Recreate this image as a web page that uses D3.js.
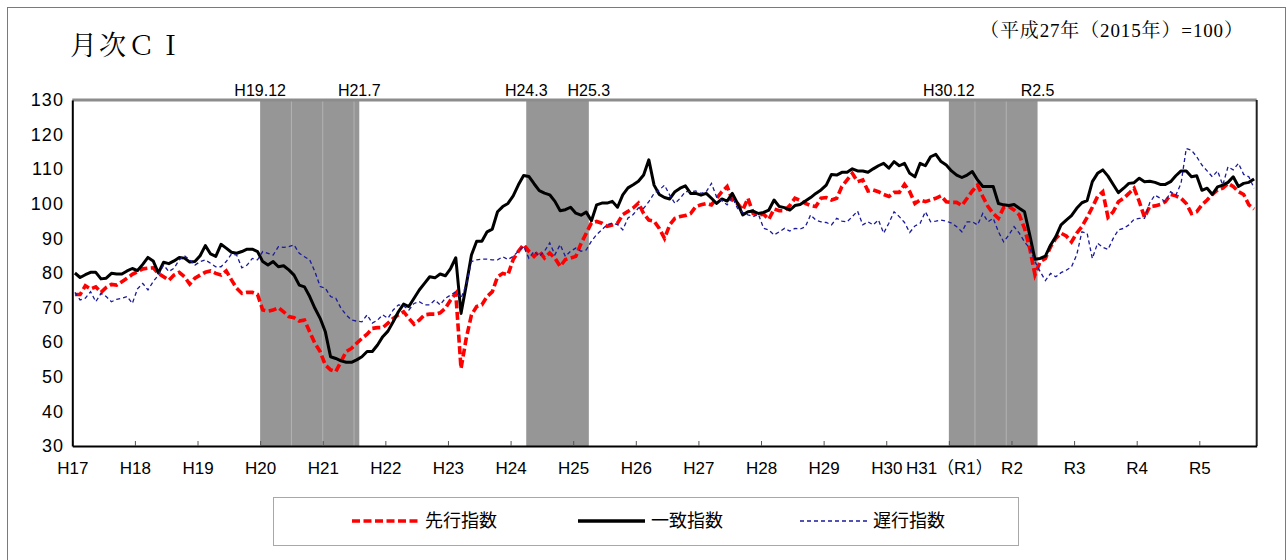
<!DOCTYPE html>
<html>
<head>
<meta charset="utf-8">
<script src="https://cdn.jsdelivr.net/npm/d3@7"></script>
<style>
body { margin: 0; background: #fff; }
svg text { font-family: "Liberation Sans", Arial, "Noto Sans CJK JP", sans-serif; fill: #000; }
</style>
</head>
<body>
<div id="chart"></div>
<script>
// year tick labels (each year = 12 monthly categories, starting H17.1)
const yearLabels = ["H17","H18","H19","H20","H21","H22","H23","H24","H25","H26",
                    "H27","H28","H29","H30","H31（R1）","R2","R3","R4","R5"];

// 先行指数 (leading index), H17.1 - R5.11
const leading = [
  73.8, 73.8, 76.3, 75.4, 76.0, 74.4, 75.8, 76.7, 76.5, 77.5, 78.5, 79.6,
  80.4, 81.2, 81.4, 81.5, 79.9, 78.9, 77.9, 79.4, 80.2, 78.9, 76.8, 78.5,
  79.4, 80.2, 80.6, 79.9, 79.4, 80.6, 78.0, 75.6, 74.1, 74.4, 74.4, 73.8,
  69.3, 69.0, 69.3, 70.0, 68.8, 67.4, 67.1, 66.1, 66.4, 63.0, 59.7, 57.3,
  53.4, 52.0, 51.5, 54.4, 57.3, 58.2, 59.7, 61.1, 62.3, 64.0, 64.2, 64.2,
  65.5, 66.9, 67.9, 68.8, 66.9, 65.2, 66.4, 67.9, 68.1, 68.1, 68.5, 69.8,
  72.2, 74.1, 52.4, 61.1, 67.9, 70.3, 70.8, 73.2, 74.6, 78.9, 79.9, 79.5,
  83.9, 86.3, 88.2, 86.3, 84.8, 86.3, 84.3, 85.8, 84.3, 81.9, 83.9, 84.3,
  84.8, 88.5, 91.5, 94.5, 94.9, 94.4, 93.5, 93.9, 94.4, 96.9, 97.8, 98.8,
  100.2, 97.2, 95.3, 95.0, 92.9, 90.0, 93.9, 95.8, 96.3, 96.6, 97.2, 99.2,
  99.7, 100.1, 99.7, 101.6, 103.5, 105.0, 101.1, 100.1, 98.2, 101.6, 97.2, 96.8,
  97.0, 95.5, 98.5, 98.0, 98.0, 99.5, 101.6, 101.0, 100.1, 99.5, 99.2, 101.6,
  101.8, 101.1, 101.6, 105.0, 106.9, 108.8, 106.4, 106.9, 103.7, 104.0, 103.5, 102.7,
  102.1, 103.3, 103.3, 105.6, 103.5, 100.1, 101.1, 100.6, 101.1, 101.6, 102.3, 100.6,
  100.4, 100.4, 99.5, 101.6, 103.7, 105.4, 102.1, 99.2, 97.2, 95.8, 98.9, 99.2,
  98.2, 96.8, 92.9, 87.1, 79.5, 83.3, 84.2, 87.6, 90.0, 91.5, 90.7, 89.0,
  91.5, 93.4, 96.1, 99.0, 102.1, 103.5, 96.1, 97.7, 100.6, 101.6, 103.0, 104.5,
  100.6, 96.1, 99.2, 99.4, 99.8, 100.6, 102.7, 102.3, 101.6, 100.1, 97.2, 97.7,
  99.7, 101.1, 102.7, 104.0, 104.5, 105.9, 105.0, 103.5, 102.7, 99.7, 98.5
];

// 一致指数 (coincident index)
const coincident = [
  80.0, 78.7, 79.5, 80.2, 80.2, 78.3, 78.5, 79.9, 79.7, 79.7, 80.6, 81.3,
  80.7, 82.5, 84.5, 83.5, 80.0, 83.1, 82.7, 83.5, 84.5, 84.3, 83.2, 83.3,
  85.0, 87.9, 85.5, 84.8, 88.3, 87.2, 86.0, 85.7, 86.2, 86.9, 86.9, 86.2,
  83.3, 82.3, 83.3, 81.8, 82.1, 80.9, 79.4, 76.5, 76.0, 73.2, 69.8, 66.9,
  63.0, 55.8, 55.3, 54.6, 54.2, 54.2, 54.9, 55.8, 57.3, 57.3, 59.2, 61.6,
  63.2, 65.9, 68.8, 71.0, 70.3, 72.7, 75.1, 77.0, 78.9, 78.6, 79.7, 79.2,
  81.3, 84.4, 68.3, 76.5, 85.2, 89.2, 89.2, 91.9, 92.7, 97.7, 99.2, 100.1,
  102.3, 105.5, 108.2, 107.9, 105.8, 103.8, 103.1, 102.6, 100.7, 98.0, 98.3, 99.0,
  97.3, 96.7, 97.6, 95.1, 99.7, 100.2, 100.2, 100.7, 99.0, 102.6, 104.6, 105.5,
  106.5, 108.3, 112.7, 105.4, 102.7, 101.8, 101.4, 103.5, 104.5, 105.2, 103.0, 103.0,
  102.5, 103.0, 101.6, 100.1, 101.4, 100.8, 103.0, 100.1, 96.8, 97.7, 97.9, 97.2,
  97.5, 98.2, 101.1, 99.2, 98.9, 98.2, 99.5, 99.8, 100.8, 101.8, 103.0, 104.0,
  105.4, 108.5, 108.3, 109.1, 109.1, 110.1, 109.5, 109.5, 109.1, 110.1, 111.0, 111.7,
  110.3, 112.2, 111.0, 111.7, 108.8, 107.8, 111.7, 111.0, 113.6, 114.3, 112.2, 111.2,
  109.5, 108.3, 107.6, 108.3, 109.3, 106.9, 105.0, 105.0, 105.0, 100.1, 99.7, 99.5,
  99.8, 98.7, 97.7, 91.0, 84.0, 84.2, 84.9, 88.1, 90.5, 93.9, 95.3, 96.6,
  98.7, 100.3, 100.9, 106.4, 108.8, 109.8, 108.0, 105.6, 103.2, 104.5, 105.9, 106.1,
  107.4, 106.4, 106.5, 106.2, 105.6, 105.6, 106.4, 108.1, 109.5, 109.5, 107.8, 108.1,
  103.9, 104.5, 102.7, 104.9, 105.4, 106.2, 107.8, 105.0, 105.9, 106.2, 107.2
];

// 遅行指数 (lagging index)
const lagging = [
  74.4, 72.2, 72.7, 74.6, 71.7, 74.1, 73.2, 71.7, 72.4, 72.7, 73.2, 71.2,
  75.4, 77.0, 75.1, 77.5, 79.4, 82.3, 80.4, 81.4, 83.8, 85.0, 83.8, 82.3,
  83.3, 83.8, 82.8, 81.8, 81.8, 83.3, 85.5, 85.2, 81.5, 82.3, 84.2, 83.8,
  86.2, 85.7, 85.2, 87.6, 87.4, 87.6, 88.1, 85.7, 84.7, 83.8, 80.4, 76.1,
  75.6, 73.2, 72.7, 69.8, 67.9, 66.4, 66.1, 65.9, 67.9, 65.5, 66.4, 67.9,
  66.9, 69.3, 70.8, 70.5, 69.3, 71.2, 71.7, 70.8, 70.8, 72.2, 70.8, 72.7,
  73.6, 74.6, 72.7, 76.5, 83.3, 83.8, 84.0, 84.0, 83.8, 83.8, 84.7, 83.9,
  84.8, 86.3, 87.7, 84.3, 86.3, 84.8, 86.3, 88.7, 85.3, 88.2, 84.8, 86.3,
  87.2, 86.3, 86.7, 89.2, 91.1, 92.5, 94.0, 94.4, 94.0, 92.5, 95.9, 96.9,
  98.8, 98.7, 100.6, 103.0, 104.0, 105.4, 102.5, 100.1, 101.6, 103.5, 103.5, 103.7,
  103.0, 103.5, 105.9, 101.9, 100.9, 99.7, 101.9, 98.7, 97.5, 96.8, 96.3, 97.0,
  92.9, 92.4, 91.0, 91.9, 92.9, 92.1, 92.9, 92.7, 93.4, 96.8, 95.3, 94.8,
  94.6, 93.9, 95.8, 95.0, 94.8, 96.3, 97.9, 93.9, 94.8, 93.9, 95.3, 91.5,
  94.4, 97.7, 96.3, 94.6, 91.7, 93.6, 94.4, 97.7, 94.8, 95.0, 95.3, 95.0,
  94.4, 93.4, 91.9, 94.8, 94.8, 93.9, 97.2, 94.8, 95.8, 91.9, 89.0, 91.0,
  93.4, 91.5, 89.0, 87.1, 83.3, 80.4, 77.8, 79.9, 78.9, 80.1, 80.8, 81.8,
  85.2, 91.9, 91.5, 84.2, 88.6, 87.4, 86.8, 90.0, 92.5, 92.9, 93.9, 95.5,
  95.8, 95.8, 100.3, 102.5, 101.6, 100.6, 103.5, 102.5, 105.9, 116.0, 115.5, 113.6,
  111.2, 109.5, 107.8, 109.5, 105.4, 110.7, 109.8, 111.7, 108.5, 107.8, 104.5
];

// shaded periods (peak -> trough)
const shadePeaks   = ["H19.12", "H24.3", "H30.12"];
const shadeTroughs = ["H21.7",  "H25.3", "R2.5"];
// faint separator lines inside the shading (month boundaries)
const shadeSplits  = ["H20.7", "H21.1", "H21.7", "R1.6", "R1.12"];

const yTicks = [30, 40, 50, 60, 70, 80, 90, 100, 110, 120, 130];

const W = 1287, H = 560;
const margin = {top: 100, right: 30, bottom: 114, left: 72};

// "H19.12" -> month index from H17.1
function monthIndex(s) {
    const era = s[0];
    const parts = s.slice(1).split(".");
    const year = (era === "H" ? 1988 : 2018) + (+parts[0]);
    return (year - 2005) * 12 + (+parts[1] - 1);
}

const svg = d3.select("#chart").append("svg")
    .attr("width", W)
    .attr("height", H);

// outer frame
svg.append("rect")
    .attr("x", 7.5).attr("y", 7.5)
    .attr("width", W - 9).attr("height", H + 10)
    .attr("fill", "none")
    .attr("stroke", "#7a7a7a");

const x = d3.scaleLinear()
    .domain([0, leading.length])
    .range([margin.left + 0.3, W - margin.right - 0.3]);

const y = d3.scaleLinear()
    .domain([30, 130])
    .range([H - margin.bottom, margin.top]);

// shading
const shades = shadePeaks.map((p, i) => ({
    peak: p, trough: shadeTroughs[i],
    s: monthIndex(p) + 1, e: monthIndex(shadeTroughs[i]) + 1
}));

svg.selectAll(".shade").data(shades).enter().append("rect")
    .attr("class", "shade")
    .attr("x", d => x(d.s))
    .attr("y", y(130))
    .attr("width", d => x(d.e) - x(d.s))
    .attr("height", y(30) - y(130))
    .attr("fill", "#969696");

svg.selectAll(".split").data(shadeSplits).enter().append("line")
    .attr("x1", d => x(monthIndex(d)))
    .attr("x2", d => x(monthIndex(d)))
    .attr("y1", y(130)).attr("y2", y(30))
    .attr("stroke", "#b3b3b3")
    .attr("stroke-width", 1);

// shade labels
svg.selectAll(".peakLabel").data(shades).enter().append("text")
    .attr("x", d => x(d.s))
    .attr("y", margin.top - 4)
    .attr("text-anchor", "middle")
    .style("font-size", "16px")
    .text(d => d.peak);

svg.selectAll(".troughLabel").data(shades).enter().append("text")
    .attr("x", d => x(d.e))
    .attr("y", margin.top - 4)
    .attr("text-anchor", "middle")
    .style("font-size", "16px")
    .text(d => d.trough);

// series lines
const line = d3.line()
    .x((d, i) => x(i + 0.5))
    .y(d => y(d));

svg.append("path")
    .datum(leading)
    .attr("fill", "none")
    .attr("stroke", "#ff0000")
    .attr("stroke-width", 3.6)
    .attr("stroke-dasharray", "8,3.5")
    .attr("d", line);

svg.append("path")
    .datum(coincident)
    .attr("fill", "none")
    .attr("stroke", "#000")
    .attr("stroke-width", 3)
    .attr("stroke-linejoin", "round")
    .attr("d", line);

svg.append("path")
    .datum(lagging)
    .attr("fill", "none")
    .attr("stroke", "#1a1a9a")
    .attr("stroke-width", 1.3)
    .attr("stroke-dasharray", "4,3")
    .attr("d", line);

// plot frame: top gray, right dark
svg.append("line")
    .attr("x1", x(0)).attr("x2", x(leading.length))
    .attr("y1", y(130)).attr("y2", y(130))
    .attr("stroke", "#8c8c8c").attr("stroke-width", 3);
svg.append("line")
    .attr("x1", x(leading.length)).attr("x2", x(leading.length))
    .attr("y1", y(130)).attr("y2", y(30))
    .attr("stroke", "#222").attr("stroke-width", 2);

// axes
const xAxis = d3.axisBottom(x)
    .tickValues(yearLabels.map((d, i) => i * 12))
    .tickFormat((d, i) => yearLabels[i])
    .tickSizeInner(-5)
    .tickSizeOuter(0)
    .tickPadding(16);

const gx = svg.append("g")
    .attr("transform", "translate(0," + y(30) + ")")
    .call(xAxis);
gx.select(".domain").attr("stroke", "#000").attr("stroke-width", 2);
gx.selectAll(".tick line").attr("stroke", "#555");
gx.selectAll("text").style("font-size", "17px");

const yAxis = d3.axisLeft(y)
    .tickValues(yTicks)
    .tickSize(0)
    .tickPadding(8);

const gy = svg.append("g")
    .attr("transform", "translate(" + x(0) + ",0)")
    .call(yAxis);
gy.select(".domain").attr("stroke", "#000").attr("stroke-width", 2);
gy.selectAll("text").style("font-size", "18px").attr("letter-spacing", "1.2px");

// title and note
svg.append("text")
    .attr("x", 70).attr("y", 55)
    .style("font-family", "'Noto Serif CJK JP', 'Noto Sans CJK JP', serif")
    .style("font-size", "27px")
    .attr("letter-spacing", "2px")
    .text("月次ＣＩ");

svg.append("text")
    .attr("x", 980).attr("y", 37)
    .style("font-family", "'Liberation Serif', 'Noto Serif CJK JP', 'Noto Sans CJK JP', serif")
    .style("font-size", "19px")
    .attr("textLength", 263)
    .attr("lengthAdjust", "spacing")
    .text("（平成27年（2015年）=100）");

// legend
svg.append("rect")
    .attr("x", 273.5).attr("y", 497.5)
    .attr("width", 745).attr("height", 48)
    .attr("fill", "#fff")
    .attr("stroke", "#a8a8a8");

const legendItems = [
    {name: "先行指数", color: "#ff0000", w: 3.6, dash: "8,3.5", x0: 352},
    {name: "一致指数", color: "#000", w: 3.4, dash: null, x0: 578},
    {name: "遅行指数", color: "#1a1a9a", w: 1.3, dash: "4,3", x0: 800}
];

const lg = svg.selectAll(".leg").data(legendItems).enter().append("g")
    .attr("transform", d => "translate(" + d.x0 + ",521)");
lg.append("line")
    .attr("x1", 0).attr("x2", 67)
    .attr("stroke", d => d.color)
    .attr("stroke-width", d => d.w)
    .attr("stroke-dasharray", d => d.dash);
lg.append("text")
    .attr("x", 73).attr("dy", "0.36em")
    .style("font-family", "'Noto Sans CJK JP', sans-serif")
    .style("font-size", "18px")
    .text(d => d.name);
</script>
</body>
</html>
